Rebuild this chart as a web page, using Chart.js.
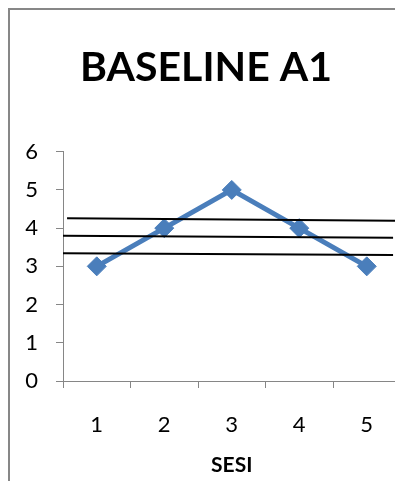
<!DOCTYPE html>
<html>
<head>
<meta charset="utf-8">
<script src="https://cdn.jsdelivr.net/npm/chart.js@4/dist/chart.umd.min.js"></script>
<style>
  html, body { margin: 0; padding: 0; background: #ffffff; overflow: hidden; }
  #wrap { position: relative; width: 395px; height: 481px; overflow: hidden; }
  #frame {
    position: absolute; left: 8px; top: 8px; width: 600px; height: 700px;
    border-left: 2px solid #878787; border-top: 2px solid #878787;
  }
  #chart { position: absolute; left: 0; top: 0; }
</style>
</head>
<body>
<div id="wrap">
  <div id="frame"></div>
  <canvas id="chart" width="420" height="481"></canvas>
</div>
<script>
// Sessions and scores of the baseline phase
const sessions = ['1', '2', '3', '4', '5'];
const scores = [3, 4, 5, 4, 3];

// Reference lines (upper, middle, lower), as [session position, score] end points
const upperLine = [[0.56, 4.26], [5.42, 4.19]];
const middleLine = [[0.5, 3.80], [5.39, 3.75]];
const lowerLine = [[0.5, 3.34], [5.39, 3.30]];

const yTicks = [0, 1, 2, 3, 4, 5, 6];

const FONT = "Lato, 'Open Sans', sans-serif";
const AXIS_GREY = '#868686';

function toPoints(pairs) {
  return pairs.map(p => ({ x: p[0], y: p[1] }));
}

function refLine(pairs) {
  return {
    type: 'line',
    data: toPoints(pairs),
    xAxisID: 'x2',
    borderColor: '#000000',
    borderWidth: 2,
    pointRadius: 0,
    pointHoverRadius: 0,
    tension: 0,
    fill: false,
    order: 0
  };
}

new Chart(document.getElementById('chart'), {
  type: 'line',
  data: {
    labels: sessions,
    datasets: [
      {
        data: scores,
        xAxisID: 'x',
        borderColor: '#4A7EBB',
        backgroundColor: '#4A7EBB',
        borderWidth: 5,
        pointStyle: 'rectRot',
        pointRadius: 9.5,
        pointBorderWidth: 1,
        pointBackgroundColor: '#4A7EBB',
        pointBorderColor: '#4A7EBB',
        tension: 0,
        fill: false,
        order: 1
      },
      refLine(upperLine),
      refLine(middleLine),
      refLine(lowerLine)
    ]
  },
  options: {
    responsive: false,
    animation: false,
    events: [],
    layout: { padding: { left: 11.5, right: 19.5, top: 0, bottom: 0 } },
    plugins: {
      legend: { display: false },
      tooltip: { enabled: false },
      title: {
        display: true,
        text: 'BASELINE A1',
        color: '#000000',
        font: { family: FONT, size: 41, weight: 'bold', lineHeight: 1.2 },
        padding: { top: 43.4, bottom: 59.1 }
      }
    },
    scales: {
      x: {
        type: 'category',
        offset: true,
        afterFit: s => { s.height = 100; },
        grid: {
          offset: true,
          drawOnChartArea: false,
          drawTicks: true,
          tickLength: 7,
          color: AXIS_GREY
        },
        border: { display: true, color: AXIS_GREY, width: 1 },
        ticks: {
          color: '#000000',
          padding: 24,
          font: { family: FONT, size: 22 }
        },
        title: {
          display: true,
          text: 'SESI',
          color: '#000000',
          font: { family: FONT, size: 21, weight: 'bold', lineHeight: 1.2 },
          padding: { top: 10, bottom: 3 }
        }
      },
      x2: {
        type: 'linear',
        display: false,
        min: 0.5,
        max: 5.5
      },
      y: {
        min: 0,
        max: 6,
        afterFit: s => { s.width = 51.5; },
        afterBuildTicks: s => { s.ticks = yTicks.map(v => ({ value: v })); },
        grid: {
          drawOnChartArea: false,
          drawTicks: true,
          tickLength: 7,
          color: AXIS_GREY
        },
        border: { display: true, color: AXIS_GREY, width: 1 },
        ticks: {
          color: '#000000',
          padding: 18,
          font: { family: FONT, size: 22 }
        }
      }
    }
  }
});
</script>
</body>
</html>
